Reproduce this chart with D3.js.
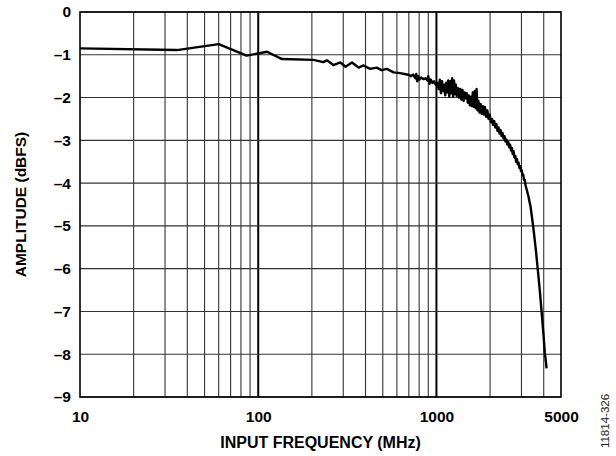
<!DOCTYPE html>
<html>
<head>
<meta charset="utf-8">
<script src="https://cdn.jsdelivr.net/npm/d3@7"></script>
<style>
  body { margin: 0; background: white; }
  text { font-family: Arial, "Liberation Sans", sans-serif; }
</style>
</head>
<body>
<main></main>
<script>
let freqMHz = [
    10, 35, 60, 86, 112, 136, 204, 232, 243, 264, 289, 309, 336, 366, 390, 424, 462, 493, 527, 575,
    625, 682, 700, 720, 740, 760, 770, 780, 790, 800, 820, 847, 870, 890, 900, 915, 930, 950, 970, 990,
    1010, 1030, 1045, 1060, 1075, 1090, 1105, 1120, 1135, 1150, 1165, 1180, 1195, 1210, 1225, 1240, 1255, 1270, 1285, 1300,
    1320, 1340, 1360, 1380, 1400, 1420, 1440, 1460, 1480, 1500, 1520, 1540, 1560, 1580, 1600, 1620, 1640, 1660, 1680, 1700,
    1720, 1745, 1770, 1795, 1820,
    1845, 1870, 1900, 1930, 1960, 1990, 2020, 2050, 2080, 2110, 2140, 2170, 2200, 2230, 2260, 2290, 2320, 2350,
    2380, 2410, 2440, 2470, 2500, 2530, 2560, 2590, 2620, 2650, 2680, 2710, 2740, 2770, 2800, 2830, 2860, 2890,
    2920, 2950, 2980, 3010, 3040, 3070, 3100, 3130, 3162,
    3280, 3373, 3493, 3600, 3706, 3800, 3890, 3980, 4058, 4120, 4150
]
let amplitudeDbfs = [
    -0.85, -0.89, -0.75, -1.02, -0.93, -1.10, -1.12, -1.17, -1.13, -1.24, -1.18, -1.28, -1.18, -1.30, -1.25, -1.33, -1.30, -1.36, -1.33, -1.41,
    -1.43, -1.46, -1.47, -1.50, -1.46, -1.55, -1.45, -1.62, -1.50, -1.58, -1.53, -1.57, -1.55, -1.60, -1.50, -1.68, -1.58, -1.66, -1.62, -1.70,
    -1.66, -1.80, -1.58, -1.90, -1.62, -1.85, -1.70, -1.95, -1.65, -1.88, -1.60, -1.98, -1.62, -1.90, -1.55, -1.98, -1.60, -1.92, -1.70, -1.96,
    -1.78, -2.00, -1.80, -2.05, -1.82, -2.08, -1.88, -2.02, -1.90, -2.12, -1.95, -2.18, -1.98, -2.20, -1.88, -2.22, -1.85, -2.25, -1.80, -2.30,
    -2.08, -2.35, -2.15, -2.38, -2.20,
    -2.40, -2.22, -2.45, -2.30, -2.50, -2.40, -2.58, -2.50, -2.64, -2.55, -2.70, -2.62, -2.78, -2.70, -2.84, -2.76, -2.90, -2.83,
    -2.96, -2.90, -3.03, -2.98, -3.10, -3.04, -3.16, -3.10, -3.24, -3.18, -3.32, -3.26, -3.40, -3.36, -3.50, -3.44, -3.56, -3.52,
    -3.64, -3.60, -3.72, -3.70, -3.82, -3.80, -3.93, -3.92, -4.05,
    -4.30, -4.55, -5.02, -5.50, -6.03, -6.50, -7.00, -7.50, -7.97, -8.20, -8.33
]

let xTicks = [10, 100, 1000, 5000]
let xDecades = [100, 1000]
let xMinor = [20, 30, 40, 50, 60, 70, 80, 90, 200, 300, 400, 500, 600, 700, 800, 900, 2000, 3000, 4000]
let yTicks = [0, -1, -2, -3, -4, -5, -6, -7, -8, -9]

const svgWidth = 616
const svgHeight = 456

const marginLeft = 80
const marginTop = 12
const plotWidth = 481
const plotHeight = 385

let svg = d3.select("main")
    .append("svg")
    .attr("width", svgWidth)
    .attr("height", svgHeight)
    .style("display", "block")

/* Scales */

let xScale = d3.scaleLog()
    .domain([10, 5000])
    .range([0, plotWidth])

let yScale = d3.scaleLinear()
    .domain([-9, 0])
    .range([plotHeight, 0])

let graph = svg.append("g")
    .attr("transform", `translate(${marginLeft}, ${marginTop})`)

/* Grid */

graph.selectAll(".minor")
    .data(xMinor)
    .enter()
    .append("line")
    .attr("x1", d => xScale(d))
    .attr("x2", d => xScale(d))
    .attr("y1", 0)
    .attr("y2", plotHeight)
    .attr("stroke", "#333")
    .attr("stroke-width", 1.1)

graph.selectAll(".decade")
    .data(xDecades)
    .enter()
    .append("line")
    .attr("x1", d => xScale(d))
    .attr("x2", d => xScale(d))
    .attr("y1", 0)
    .attr("y2", plotHeight)
    .attr("stroke", "#000")
    .attr("stroke-width", 2)

graph.selectAll(".hgrid")
    .data(yTicks)
    .enter()
    .append("line")
    .attr("x1", 0)
    .attr("x2", plotWidth)
    .attr("y1", d => yScale(d))
    .attr("y2", d => yScale(d))
    .attr("stroke", "#333")
    .attr("stroke-width", 1.1)

graph.append("rect")
    .attr("width", plotWidth)
    .attr("height", plotHeight)
    .attr("fill", "none")
    .attr("stroke", "#000")
    .attr("stroke-width", 1.6)

/* Curve */

let points = freqMHz.map((f, i) => [f, amplitudeDbfs[i]])

let line = d3.line()
    .x(d => xScale(d[0]))
    .y(d => yScale(d[1]))

graph.append("path")
    .datum(points)
    .attr("d", line)
    .attr("fill", "none")
    .attr("stroke", "#000")
    .attr("stroke-width", 2.4)
    .attr("stroke-linejoin", "round")

/* Axes labels */

let bottomAxis = d3.axisBottom(xScale)
    .tickValues(xTicks)
    .tickFormat(d3.format("d"))
    .tickSize(0)
    .tickPadding(14)

let xAxis = graph.append("g")
    .attr("transform", `translate(0, ${plotHeight})`)
    .call(bottomAxis)

xAxis.select("path").remove()
xAxis.selectAll("text")
    .style("font-size", "15.5px")
    .style("font-weight", "bold")
    .attr("fill", "#000")

let leftAxis = d3.axisLeft(yScale)
    .tickValues(yTicks)
    .tickFormat(d => d === 0 ? "0" : "\u2013" + Math.abs(d))
    .tickSize(0)
    .tickPadding(9)

let yAxis = graph.append("g")
    .call(leftAxis)

yAxis.select("path").remove()
yAxis.selectAll("text")
    .style("font-size", "15.5px")
    .style("font-weight", "bold")
    .attr("fill", "#000")

svg.append("text")
    .attr("x", marginLeft + plotWidth / 2)
    .attr("y", 448)
    .style("text-anchor", "middle")
    .style("font-size", "16px")
    .style("font-weight", "bold")
    .text("INPUT FREQUENCY (MHz)")

svg.append("text")
    .attr("transform", `translate(26, ${marginTop + plotHeight / 2}) rotate(-90)`)
    .style("text-anchor", "middle")
    .style("font-size", "15.5px")
    .style("font-weight", "bold")
    .text("AMPLITUDE (dBFS)")

svg.append("text")
    .attr("transform", `translate(609, 421) rotate(-90)`)
    .style("text-anchor", "middle")
    .style("font-size", "11.5px")
    .attr("fill", "#222")
    .text("11814-326")
</script>
</body>
</html>
